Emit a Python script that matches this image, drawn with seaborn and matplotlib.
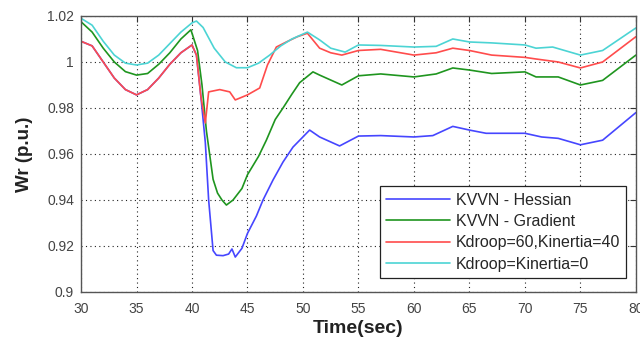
import matplotlib
matplotlib.use("Agg")
import matplotlib.pyplot as plt
import seaborn as sns
import pandas as pd

# Rotor speed response (p.u.) of four controller settings
t_early = [30, 31, 32, 33, 34, 35, 36, 37, 38, 39, 40]
w_early_red = [1.009, 1.007, 1.000, 0.993, 0.988, 0.9857, 0.988, 0.993, 0.999, 1.004, 1.0074]

t_hess = t_early + [40.4, 40.8, 41.2, 41.5, 41.9, 42.2, 42.8, 43.3, 43.6, 43.9, 44.5, 45, 45.8,
                    46.4, 47.3, 48.2, 49.1, 50.6, 51.5, 53.3, 55, 57, 60, 61.7, 63.5, 65,
                    66.5, 70, 71.5, 73, 75, 77, 80]
w_hess = w_early_red + [1.003, 0.985, 0.965, 0.940, 0.918, 0.916, 0.9158, 0.9165, 0.9187, 0.9152,
                        0.919, 0.9255, 0.933, 0.940, 0.9487, 0.9565, 0.963, 0.9704, 0.9674,
                        0.9635, 0.9678, 0.968, 0.9674, 0.968, 0.972, 0.9704, 0.969, 0.969,
                        0.9674, 0.9668, 0.964, 0.966, 0.978]

t_grad = [30, 31, 32, 33, 34, 35, 36, 37, 38, 39, 39.9, 40.5, 40.9, 41.3, 41.9, 42.3, 42.7,
          43.1, 43.7, 44.5, 45, 46, 46.7, 47.5, 48.2, 49, 49.7, 50.9, 51.5, 53.5, 55, 57,
          60, 62, 63.5, 65, 67, 70, 71, 73, 75, 77, 80]
w_grad = [1.0175, 1.013, 1.006, 1.000, 0.9958, 0.9943, 0.995, 0.999, 1.004, 1.010, 1.014,
          1.005, 0.990, 0.970, 0.949, 0.943, 0.940, 0.9378, 0.940, 0.945, 0.951, 0.959,
          0.966, 0.975, 0.980, 0.986, 0.991, 0.9957, 0.9943, 0.990, 0.994, 0.9948, 0.9935,
          0.9948, 0.9974, 0.9965, 0.995, 0.9957, 0.9935, 0.9935, 0.990, 0.992, 1.003]

t_droop = t_early + [40.4, 40.8, 41.2, 41.5, 42.5, 43.4, 43.9, 45, 46.1, 46.8, 47.6, 48.5,
                     49.5, 50.4, 51.5, 52.5, 53.5, 55, 57, 60, 62, 63.5, 65, 67, 70, 71,
                     73, 75, 77, 80]
w_droop = w_early_red + [1.003, 0.985, 0.9735, 0.987, 0.988, 0.987, 0.9835, 0.9857, 0.9887,
                         0.9987, 1.0065, 1.0087, 1.011, 1.0125, 1.006, 1.004, 1.003, 1.005,
                         1.0055, 1.003, 1.004, 1.006, 1.005, 1.003, 1.002, 1.0013, 1.000,
                         0.9974, 1.000, 1.011]

t_zero = [30, 31, 32, 33, 34, 35, 36, 37, 38, 39, 40, 40.4, 41, 42, 43, 44, 45, 46, 47, 48,
          49, 50.4, 51.5, 52.5, 53.8, 55, 57, 60, 62, 63.5, 65, 67, 70, 71, 72.5, 75, 77, 80]
w_zero = [1.019, 1.016, 1.009, 1.003, 0.9995, 0.9987, 0.9995, 1.003, 1.008, 1.013, 1.017,
          1.0178, 1.015, 1.006, 1.000, 0.9975, 0.9975, 0.9995, 1.003, 1.007, 1.010, 1.013,
          1.0096, 1.006, 1.0043, 1.0074, 1.0072, 1.0065, 1.0068, 1.010, 1.0087, 1.0083,
          1.0074, 1.006, 1.0065, 1.003, 1.005, 1.0148]

labels = ["KVVN - Hessian", "KVVN - Gradient", "Kdroop=60,Kinertia=40", "Kdroop=Kinertia=0"]
colors = ["#4646ff", "#1f951f", "#ff4c4c", "#4cd4d4"]
x_ticks = [30, 35, 40, 45, 50, 55, 60, 65, 70, 75, 80]
y_ticks = [0.9, 0.92, 0.94, 0.96, 0.98, 1.0, 1.02]
y_tick_labels = ["0.9", "0.92", "0.94", "0.96", "0.98", "1", "1.02"]

series = [(t_hess, w_hess), (t_grad, w_grad), (t_droop, w_droop), (t_zero, w_zero)]
frames = [pd.DataFrame({"t": t, "w": w, "case": lab}) for (t, w), lab in zip(series, labels)]
df = pd.concat(frames, ignore_index=True)

sns.set_style("white")
plt.rcParams["font.family"] = ["Liberation Sans", "DejaVu Sans"]

fig = plt.figure(figsize=(6.4, 3.43), dpi=100)
ax = fig.add_axes([0.1266, 0.1487, 0.867, 0.8047])

sns.lineplot(data=df, x="t", y="w", hue="case", hue_order=labels, palette=colors,
             linewidth=1.2, ax=ax, sort=False, estimator=None)

ax.set_xlim(30, 80)
ax.set_ylim(0.9, 1.02)
ax.set_xticks(x_ticks)
ax.set_yticks(y_ticks)
ax.set_yticklabels(y_tick_labels)
ax.grid(True, linestyle=(0, (1, 3)), color="#222222", linewidth=0.8)
ax.tick_params(direction="in", top=True, right=True, length=4, labelsize=10,
               labelcolor="#444444", color="#333333")
ax.tick_params(axis="x", pad=7)
ax.tick_params(axis="y", pad=5)
for s in ax.spines.values():
    s.set_color("#555555")
    s.set_linewidth(1.0)

ax.set_xlabel("Time(sec)", fontsize=14, fontweight="bold", color="#222222", labelpad=3)
ax.set_ylabel("Wr (p.u.)", fontsize=13.5, fontweight="bold", color="#222222", labelpad=10)

leg = ax.legend(loc="lower right", bbox_to_anchor=(0.983, 0.05), fontsize=11.5,
                handlelength=4.0, frameon=True, fancybox=False, edgecolor="#222222",
                framealpha=1, borderpad=0.4, labelspacing=0.4, handletextpad=0.35,
                borderaxespad=0.0)
leg.get_frame().set_linewidth(0.9)

fig.savefig("out.png", dpi=100)
